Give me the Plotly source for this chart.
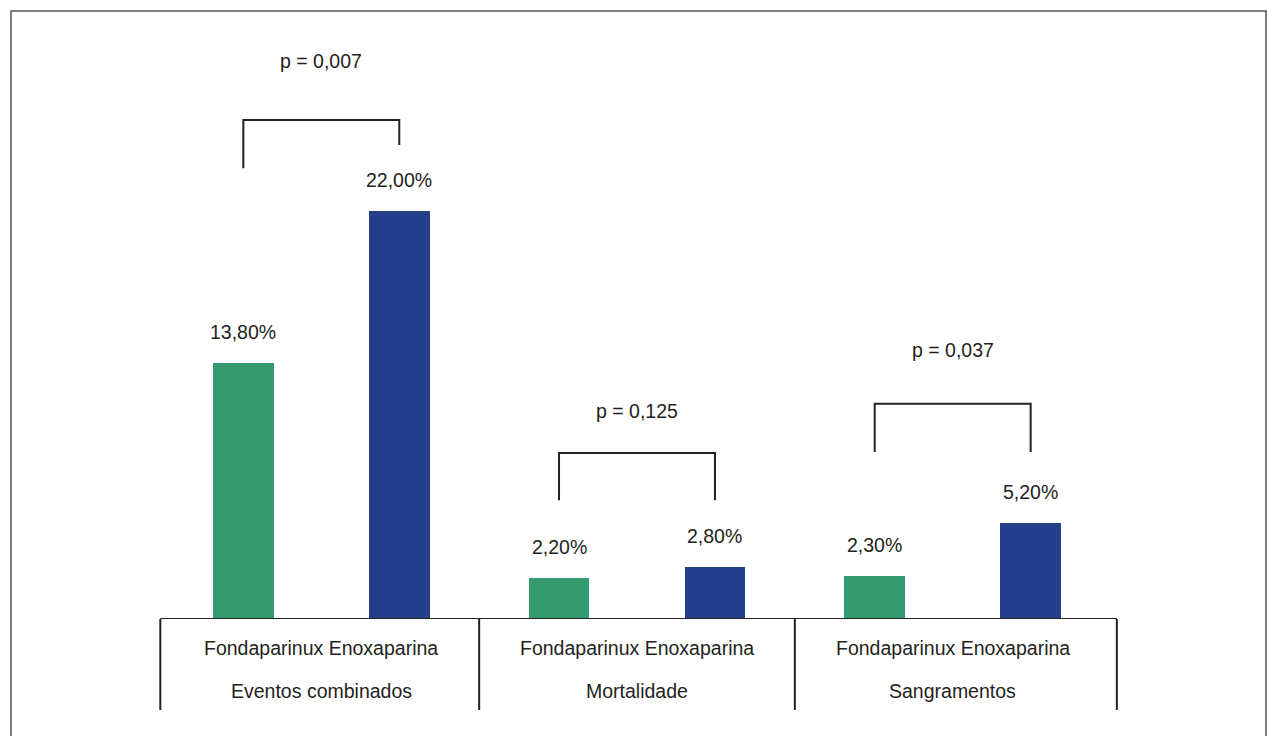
import plotly.graph_objects as go

# Outcome groups and treatment arms
groups = ["Eventos combinados", "Mortalidade", "Sangramentos"]
arms = ["Fondaparinux", "Enoxaparina"]
fondaparinux = [13.8, 2.2, 2.3]
enoxaparina = [22.0, 2.8, 5.2]
value_labels_f = ["13,80%", "2,20%", "2,30%"]
value_labels_e = ["22,00%", "2,80%", "5,20%"]
p_values = ["p = 0,007", "p = 0,125", "p = 0,037"]

# bracket geometry (in % units): top of bracket, left leg end, right leg end, text height
bracket_top = [26.9, 8.95, 11.6]
bracket_left_end = [24.3, 6.4, 9.0]
bracket_right_end = [25.55, 6.4, 9.0]
p_text_y = [30.1, 11.2, 14.5]

GREEN = "#349B71"
BLUE = "#243E8C"
TEXT = "#231F20"
FONT = "Liberation Sans, Arial, sans-serif"
FS = 19.5

W, H = 1267, 736
L, R, T, B = 154, 147, 18, 117
XR = [-0.53, 2.53]
YR = [0, 32.4]
off = 0.247
bw = 0.193
boundaries = [-0.51, 0.5, 1.5, 2.52]

xg = [i for i in range(len(groups))]

fig = go.Figure()
fig.add_trace(go.Bar(x=[i - off for i in xg], y=fondaparinux, width=bw,
                     marker=dict(color=GREEN, line=dict(width=0)), name=arms[0],
                     hoverinfo="skip"))
fig.add_trace(go.Bar(x=[i + off for i in xg], y=enoxaparina, width=bw,
                     marker=dict(color=BLUE, line=dict(width=0)), name=arms[1],
                     hoverinfo="skip"))

shapes = []
annotations = []
line = dict(color="#222222", width=2)
font = dict(size=FS, color=TEXT, family=FONT)

# value labels above bars
for i in xg:
    for xo, v, lab in ((-off, fondaparinux[i], value_labels_f[i]), (off, enoxaparina[i], value_labels_e[i])):
        annotations.append(dict(x=i + xo, y=v, text=lab, showarrow=False, xref="x", yref="y",
                                yanchor="middle", yshift=31, font=font))
    # significance brackets
    xl, xr_ = i - off, i + off
    shapes.append(dict(type="path", xref="x", yref="y",
                       path=f"M {xl} {bracket_left_end[i]} L {xl} {bracket_top[i]} L {xr_} {bracket_top[i]} L {xr_} {bracket_right_end[i]}",
                       line=line))
    annotations.append(dict(x=i, y=p_text_y[i], text=p_values[i], showarrow=False, xref="x", yref="y",
                            font=font))

# category axis drawn as a table-like frame below the bars
ph = H - T - B
below = -91 / ph
shapes.append(dict(type="line", xref="x", yref="y", x0=boundaries[0], x1=boundaries[-1], y0=0, y1=0,
                   line=line))
for bx in boundaries:
    shapes.append(dict(type="line", xref="x", yref="paper", x0=bx, x1=bx, y0=0, y1=below, line=line))
for i in xg:
    annotations.append(dict(x=i, y=-29 / ph, xref="x", yref="paper", showarrow=False, yanchor="middle",
                            text=" ".join(arms), font=font))
    annotations.append(dict(x=i, y=-72 / ph, xref="x", yref="paper", showarrow=False, yanchor="middle",
                            text=groups[i], font=font))

# outer frame
pw = W - L - R
fx0 = (11 - L) / pw
fx1 = (1266 - L) / pw
fy1 = (H - 11 - B) / ph
shapes.append(dict(type="rect", xref="paper", yref="paper", x0=fx0, x1=fx1, y0=-(B + 3) / ph, y1=fy1,
                   line=dict(color="#555555", width=1.5), layer="below"))

fig.update_layout(
    width=W, height=H,
    margin=dict(l=L, r=R, t=T, b=B, pad=0),
    paper_bgcolor="white", plot_bgcolor="white",
    showlegend=False,
    xaxis=dict(range=XR, visible=False, fixedrange=True),
    yaxis=dict(range=YR, visible=False, fixedrange=True),
    shapes=shapes, annotations=annotations,
    bargap=0,
)

fig.write_html("out.html", config=dict(displayModeBar=False))
